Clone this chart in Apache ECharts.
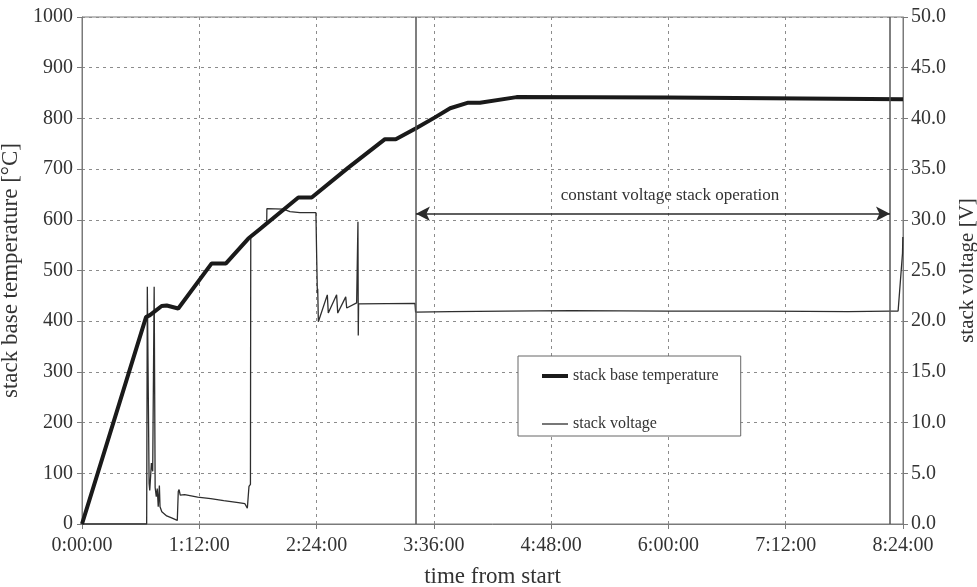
<!DOCTYPE html>
<html>
<head>
<meta charset="utf-8">
<script src="https://cdn.jsdelivr.net/npm/echarts@6/dist/echarts.min.js"></script>
<style>
  html, body { margin: 0; padding: 0; background: #fff; }
  #chart { width: 977px; height: 587px; }
</style>
</head>
<body>
<div id="chart"></div>
<script>
// Stack start-up run: base temperature and stack voltage over time (minutes from start)
const tempTime = [0, 39.3, 41.7, 48.9, 52, 59.1, 79.6, 88.4, 102.1, 109.3, 132.8, 141, 163.5, 186, 192.6, 204.8, 216.7, 226, 237.1, 244.3, 266.8, 360, 504];
const tempValue = [0, 408, 412, 430, 431, 425, 514, 514, 563, 582, 644, 644, 703, 759, 759, 780, 802, 820, 831, 831, 842, 841, 838];

const voltTime = [0, 39.7, 40.1, 41.2, 41.6, 42.6, 43.4, 44.3, 44.9, 45.6, 46.2, 46.8, 47.5, 47.9, 49.0, 52.0, 55.0, 58.5, 59.1, 59.6, 60.3, 63, 71, 79, 87, 96, 100, 101.5, 102.1, 102.5, 103.4, 103.6, 111.3, 113.4, 113.5, 123.6, 127.7, 133.8, 143.6, 144.1, 144.5, 144.7, 145.1, 150.6, 151.2, 156.3, 157.0, 161.9, 162.5, 168.6, 169.2, 169.4, 169.6, 169.8, 204.4, 204.8, 226, 260, 300, 360, 420, 470, 496, 501, 503.7, 503.9];
const voltValue = [0, 0, 23.4, 4.0, 3.3, 6.0, 5.2, 23.4, 3.6, 2.7, 3.5, 1.7, 3.8, 1.7, 1.2, 0.8, 0.6, 0.35, 3.2, 3.4, 2.85, 2.9, 2.65, 2.5, 2.3, 2.1, 2.0, 1.55, 1.5, 3.7, 3.9, 28.3, 29.5, 29.8, 31.1, 31.05, 30.8, 30.7, 30.7, 26, 22.75, 23.2, 19.95, 22.6, 20.8, 22.6, 20.8, 22.4, 21.3, 21.8, 21.8, 29.8, 18.6, 21.7, 21.76, 20.9, 20.95, 21.0, 21.05, 21.0, 21.0, 20.95, 21.0, 21.0, 26.7, 28.3];

// Constant-voltage operating window (minutes) and arrow height (V)
const windowStart = 205;
const windowEnd = 496;
const arrowLevel = 30.6;
const annotation = 'constant voltage stack operation';
const annotationAt = [361, 32.4];

const xTicks = { min: 0, max: 504, step: 72 };
const tempAxis = { min: 0, max: 1000, step: 100 };
const voltAxis = { min: 0, max: 50, step: 5 };

const serif = '"Liberation Serif", "Times New Roman", serif';

function fmtTime(m) {
  const h = Math.floor(m / 60);
  const mm = Math.round(m % 60);
  return h + ':' + String(mm).padStart(2, '0') + ':00';
}

const tempData = tempTime.map((t, i) => [t, tempValue[i]]);
const voltData = voltTime.map((t, i) => [t, voltValue[i]]);

const chart = echarts.init(document.getElementById('chart'), null, { renderer: 'canvas' });

const axisLabelStyle = { color: '#333', fontFamily: serif, fontSize: 20 };
const axisNameStyle = { color: '#333', fontFamily: serif, fontSize: 23 };
const gridDash = { color: '#8c8c8c', type: [3, 4], width: 1 };

chart.setOption({
  animation: false,
  backgroundColor: '#fff',
  grid: {
    left: 82, right: 74, top: 17, bottom: 63,
    containLabel: false, outerBoundsMode: 'none',
    show: true, borderColor: '#7a7a7a', borderWidth: 1, backgroundColor: 'transparent'
  },
  legend: {
    orient: 'vertical',
    left: 518, top: 356,
    padding: [12, 22, 4, 24],
    itemGap: 32,
    itemWidth: 26, itemHeight: 14,
    symbolKeepAspect: true,
    backgroundColor: '#fff',
    borderColor: '#666', borderWidth: 1,
    textStyle: { color: '#333', fontFamily: serif, fontSize: 16, lineHeight: 16 },
    data: [
      { name: 'stack base temperature', icon: 'path://M0 0H26V4H0Z' },
      { name: 'stack voltage', icon: 'path://M0 0H26V1.3H0Z' }
    ]
  },
  xAxis: {
    type: 'value',
    min: xTicks.min, max: xTicks.max, interval: xTicks.step,
    name: 'time from start', nameLocation: 'middle', nameGap: 41,
    nameTextStyle: axisNameStyle,
    axisLine: { lineStyle: { color: '#7a7a7a' } },
    axisTick: { show: true, length: 5, lineStyle: { color: '#7a7a7a' } },
    axisLabel: Object.assign({ formatter: fmtTime, margin: 12 }, axisLabelStyle),
    splitLine: { show: true, lineStyle: gridDash }
  },
  yAxis: [
    {
      type: 'value',
      min: tempAxis.min, max: tempAxis.max, interval: tempAxis.step,
      name: 'stack base temperature [°C]', nameLocation: 'middle', nameGap: 51,
      nameTextStyle: axisNameStyle,
      axisLine: { show: true, lineStyle: { color: '#7a7a7a' } },
      axisTick: { show: true, length: 5, lineStyle: { color: '#7a7a7a' } },
      axisLabel: Object.assign({ margin: 9, formatter: v => String(v) }, axisLabelStyle),
      splitLine: { show: true, lineStyle: gridDash }
    },
    {
      type: 'value',
      min: voltAxis.min, max: voltAxis.max, interval: voltAxis.step,
      position: 'right',
      name: 'stack voltage [V]', nameLocation: 'middle', nameGap: 48,
      nameTextStyle: Object.assign({}, axisNameStyle, { fontSize: 21 }),
      axisLine: { show: true, lineStyle: { color: '#7a7a7a' } },
      axisTick: { show: true, length: 5, lineStyle: { color: '#7a7a7a' } },
      axisLabel: Object.assign({ margin: 8, formatter: v => v.toFixed(1) }, axisLabelStyle),
      splitLine: { show: false }
    }
  ],
  series: [
    {
      name: 'stack voltage',
      type: 'line',
      yAxisIndex: 1,
      data: voltData,
      showSymbol: false, symbol: 'none',
      lineStyle: { color: '#2e2e2e', width: 1.3 },
      itemStyle: { color: '#2e2e2e' },
      z: 3,
      markLine: {
        silent: true,
        animation: false,
        symbol: 'none',
        label: { show: false },
        lineStyle: { color: '#555', type: 'solid', width: 1.5 },
        data: [
          { xAxis: windowStart },
          { xAxis: windowEnd },
          [
            { coord: [windowStart, arrowLevel], symbol: 'arrow', symbolSize: [11, 14],
              lineStyle: { color: '#2a2a2a', width: 1.6 } },
            { coord: [windowEnd, arrowLevel], symbol: 'arrow', symbolSize: [11, 14] }
          ]
        ]
      },
      markPoint: {
        silent: true,
        animation: false,
        symbol: 'circle', symbolSize: 0,
        data: [{ coord: annotationAt, value: annotation }],
        label: {
          show: true, position: 'inside', formatter: annotation,
          color: '#333', fontFamily: serif, fontSize: 17
        }
      }
    },
    {
      name: 'stack base temperature',
      type: 'line',
      yAxisIndex: 0,
      data: tempData,
      showSymbol: false, symbol: 'none',
      lineStyle: { color: '#1a1a1a', width: 4 },
      itemStyle: { color: '#1a1a1a' },
      z: 4
    }
  ]
});
</script>
</body>
</html>
